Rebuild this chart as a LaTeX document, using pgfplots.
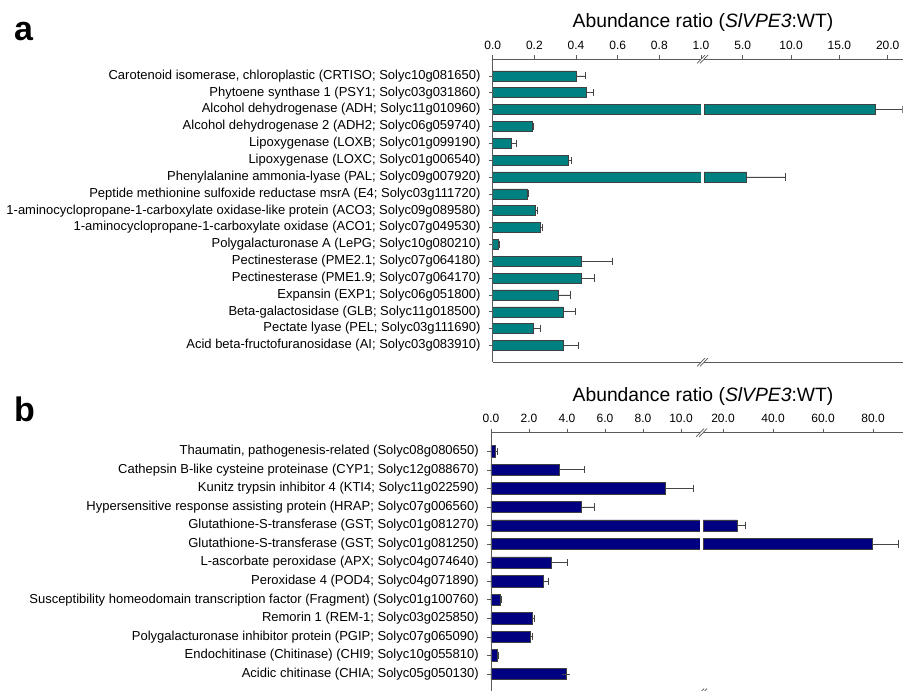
\documentclass[border=0pt]{standalone}
\usepackage{fontspec}
\setmainfont{Liberation Sans}
\usepackage{pgfplots}
\pgfplotsset{compat=1.18}
\usepackage{pgfplotstable}

\definecolor{tealbar}{RGB}{0,128,128}
\definecolor{navybar}{RGB}{0,0,128}
\definecolor{errgray}{RGB}{70,70,70}
\definecolor{axgray}{RGB}{90,90,90}

\pgfplotstableread{
y v e
0 0.400 0.045
1 0.451 0.030
2 18.76 2.74
3 0.192 0.004
4 0.091 0.021
5 0.365 0.014
6 5.41 4.04
7 0.168 0.005
8 0.203 0.010
9 0.226 0.014
10 0.029 0.002
11 0.425 0.148
12 0.425 0.065
13 0.315 0.059
14 0.341 0.057
15 0.197 0.032
16 0.341 0.069
}\dataA

\pgfplotstableread{
y v e
0 0.21 0.12
1 3.60 1.30
2 9.16 1.49
3 4.75 0.67
4 25.5 3.30
5 79.6 10.7
6 3.16 0.88
7 2.74 0.30
8 0.49 0.05
9 2.18 0.08
10 2.07 0.11
11 0.35 0.05
12 3.95 0.00
}\dataB

\pgfplotsset{
  brk/.style={
    scale only axis, y dir=reverse, xbar, clip mode=individual,
    axis line style={draw=none},
    tick style={axgray, line width=0.6pt},
    major tick length=4pt,
    tick align=outside,
    xtick pos=right, xticklabel pos=right,
    ytick pos=left,
    ticklabel style={font=\fontsize{12}{14}\selectfont},
    xticklabel style={anchor=base, yshift=6pt},
    yticklabel style={font=\fontsize{13}{15}\selectfont, inner sep=0pt, xshift=-8pt},
  },
  barA/.style={fill=tealbar, draw=black!75, line width=0.5pt,
    error bars/.cd, x dir=plus, x explicit,
    error bar style={errgray, line width=0.7pt},
    error mark options={rotate=90, errgray, mark size=3.6pt, line width=0.7pt},
    /pgfplots/.cd},
  barB/.style={fill=navybar, draw=black!75, line width=0.5pt,
    error bars/.cd, x dir=plus, x explicit,
    error bar style={errgray, line width=0.7pt},
    error mark options={rotate=90, errgray, mark size=3.6pt, line width=0.7pt},
    /pgfplots/.cd},
}

\begin{document}
\begin{tikzpicture}
\useasboundingbox (0,0) rectangle (903pt,-691pt);
\clip (0,0) rectangle (903pt,-691pt);

% ---------- panel a ----------
\node[anchor=base west, inner sep=0pt, font=\fontsize{34}{36}\selectfont\bfseries] at (14pt,-40.7pt) {a};
\node[anchor=base, inner sep=0pt, font=\fontsize{19.3}{22}\selectfont] at (703pt,-27.5pt) {Abundance ratio (\textit{SlVPE3}:WT)};

\begin{axis}[brk, at={(492.7pt,-59pt)}, anchor=north west,
  width=208.3pt, height=303.3pt,
  xmin=0, xmax=1, ymin=-1, ymax=17, bar width=10pt,
  xtick={0,0.2,0.4,0.6,0.8,1.0}, xticklabels={0.0,0.2,0.4,0.6,0.8,1.0},
  ytick={0,...,16},
  yticklabels={
    {Carotenoid isomerase, chloroplastic (CRTISO; Solyc10g081650)},
    {Phytoene synthase 1 (PSY1; Solyc03g031860)},
    {Alcohol dehydrogenase (ADH; Solyc11g010960)},
    {Alcohol dehydrogenase 2 (ADH2; Solyc06g059740)},
    {Lipoxygenase (LOXB; Solyc01g099190)},
    {Lipoxygenase (LOXC; Solyc01g006540)},
    {Phenylalanine ammonia-lyase (PAL; Solyc09g007920)},
    {Peptide methionine sulfoxide reductase msrA (E4; Solyc03g111720)},
    {1-aminocyclopropane-1-carboxylate oxidase-like protein (ACO3; Solyc09g089580)},
    {1-aminocyclopropane-1-carboxylate oxidase (ACO1; Solyc07g049530)},
    {Polygalacturonase A (LePG; Solyc10g080210)},
    {Pectinesterase (PME2.1; Solyc07g064180)},
    {Pectinesterase (PME1.9; Solyc07g064170)},
    {Expansin (EXP1; Solyc06g051800)},
    {Beta-galactosidase (GLB; Solyc11g018500)},
    {Pectate lyase (PEL; Solyc03g111690)},
    {Acid beta-fructofuranosidase (AI; Solyc03g083910)}},
]
\addplot[barA] table[x=v, y=y, x error=e] {\dataA};
\draw[axgray, line width=0.8pt] (rel axis cs:0,0) -- (rel axis cs:1,0);
\draw[axgray, line width=0.8pt] (rel axis cs:0,1) -- (rel axis cs:1,1);
\draw[axgray, line width=0.8pt] (rel axis cs:0,0) -- (rel axis cs:0,1);
\end{axis}

\begin{axis}[brk, at={(704pt,-59pt)}, anchor=north west,
  width=198.7pt, height=303.3pt,
  xmin=1, xmax=21.55, ymin=-1, ymax=17, bar width=10pt,
  xtick={5,10,15,20}, xticklabels={5.0,10.0,15.0,20.0},
  ytick=\empty,
]
\addplot[restrict x to domain=1:1000, barA] table[x=v, y=y, x error=e] {\dataA};
\draw[axgray, line width=0.8pt] (rel axis cs:0,0) -- (rel axis cs:1,0);
\draw[axgray, line width=0.8pt] (rel axis cs:0,1) -- (rel axis cs:1,1);
\end{axis}

\draw[axgray, line width=0.7pt] (697pt,-63.5pt) -- (705pt,-55pt) (700pt,-63.5pt) -- (708pt,-55pt);
\draw[axgray, line width=0.7pt] (697pt,-366.5pt) -- (705pt,-358pt) (700pt,-366.5pt) -- (708pt,-358pt);

% ---------- panel b ----------
\node[anchor=base west, inner sep=0pt, font=\fontsize{34}{36}\selectfont\bfseries] at (14pt,-421.7pt) {b};
\node[anchor=base, inner sep=0pt, font=\fontsize{19.3}{22}\selectfont] at (703pt,-401.7pt) {Abundance ratio (\textit{SlVPE3}:WT)};

\begin{axis}[brk, at={(491pt,-432.7pt)}, anchor=north west,
  width=209pt, height=259.8pt,
  xmin=0, xmax=11, ymin=-1, ymax=13, bar width=11.3pt,
  xtick={0,2,4,6,8,10}, xticklabels={0.0,2.0,4.0,6.0,8.0,10.0},
  ytick={0,...,12},
  yticklabels={
    {Thaumatin, pathogenesis-related (Solyc08g080650)},
    {Cathepsin B-like cysteine proteinase (CYP1; Solyc12g088670)},
    {Kunitz trypsin inhibitor 4 (KTI4; Solyc11g022590)},
    {Hypersensitive response assisting protein (HRAP; Solyc07g006560)},
    {Glutathione-S-transferase (GST; Solyc01g081270)},
    {Glutathione-S-transferase (GST; Solyc01g081250)},
    {L-ascorbate peroxidase (APX; Solyc04g074640)},
    {Peroxidase 4 (POD4; Solyc04g071890)},
    {Susceptibility homeodomain transcription factor (Fragment) (Solyc01g100760)},
    {Remorin 1 (REM-1; Solyc03g025850)},
    {Polygalacturonase inhibitor protein (PGIP; Solyc07g065090)},
    {Endochitinase (Chitinase) (CHI9; Solyc10g055810)},
    {Acidic chitinase (CHIA; Solyc05g050130)}},
]
\addplot[barB] table[x=v, y=y, x error=e] {\dataB};
\draw[axgray, line width=0.8pt] (rel axis cs:0,0) -- (rel axis cs:1,0);
\draw[axgray, line width=0.8pt] (rel axis cs:0,1) -- (rel axis cs:1,1);
\draw[axgray, line width=0.8pt] (rel axis cs:0,0) -- (rel axis cs:0,1);
\end{axis}

\begin{axis}[brk, at={(703pt,-432.7pt)}, anchor=north west,
  width=200pt, height=259.8pt,
  xmin=12, xmax=92, ymin=-1, ymax=13, bar width=11.3pt,
  xtick={20,40,60,80}, xticklabels={20.0,40.0,60.0,80.0},
  ytick=\empty,
]
\addplot[restrict x to domain=12:1000, barB] table[x=v, y=y, x error=e] {\dataB};
\draw[axgray, line width=0.8pt] (rel axis cs:0,0) -- (rel axis cs:1,0);
\draw[axgray, line width=0.8pt] (rel axis cs:0,1) -- (rel axis cs:1,1);
\end{axis}

\draw[axgray, line width=0.7pt] (696pt,-437pt) -- (704pt,-428.5pt) (699pt,-437pt) -- (707pt,-428.5pt);
\draw[axgray, line width=0.7pt] (696pt,-697pt) -- (704pt,-688.5pt) (699pt,-697pt) -- (707pt,-688.5pt);
\end{tikzpicture}
\end{document}
